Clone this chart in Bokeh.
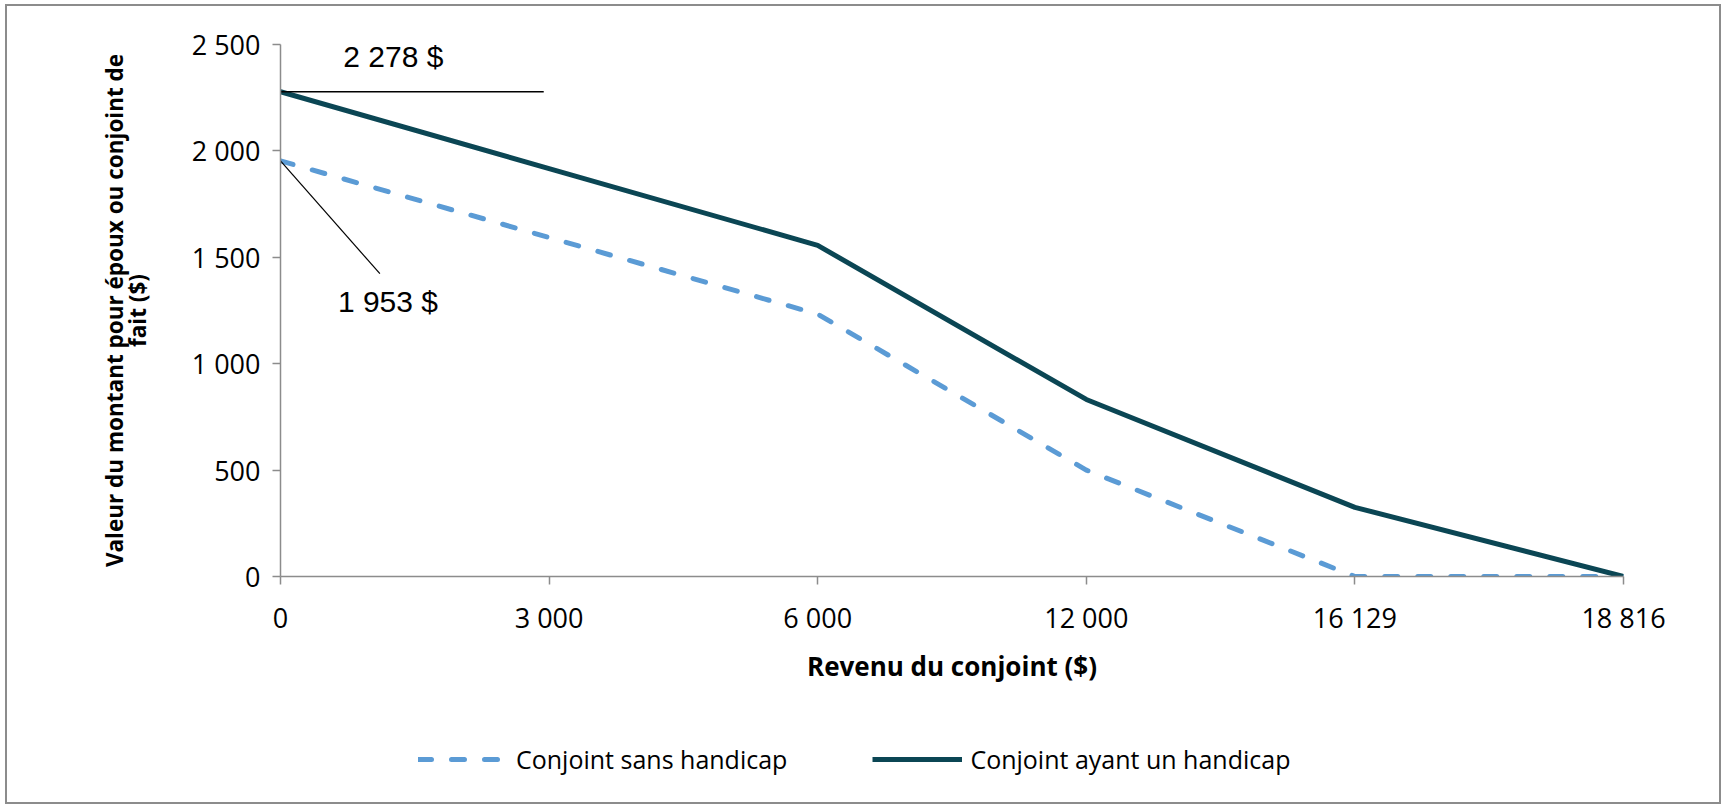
from bokeh.plotting import figure
from bokeh.layouts import column
from bokeh.models import Range1d, FixedTicker, Legend, LegendItem, LinearAxis
from bokeh.core.properties import value
from bokeh.embed import file_html
from bokeh.resources import INLINE

# ---- data ----
revenus = ["0", "3 000", "6 000", "12 000", "16 129", "18 816"]
sans_handicap = [1953, 1593, 1233, 500, 0, 0]
avec_handicap = [2278, 1917, 1556, 832, 325, 0]
y_ticks = [0, 500, 1000, 1500, 2000, 2500]
y_tick_labels = ["0", "500", "1 000", "1 500", "2 000", "2 500"]
series_names = ["Conjoint sans handicap", "Conjoint ayant un handicap"]
y_title_lines = ["Valeur du montant pour époux ou conjoint de", "fait ($)"]
x_title = "Revenu du conjoint ($)"

x = list(range(len(revenus)))

DASH_COL = "#5b9bd5"
SOLID_COL = "#0b4654"
DASH_STYLE = dict(line_color=DASH_COL, line_width=5, line_dash="13 20",
                  line_cap="round", line_join="round")
SOLID_STYLE = dict(line_color=SOLID_COL, line_width=5, line_join="round")

W = 1712
p = figure(width=W, height=700, output_backend="svg", toolbar_location=None,
           x_range=Range1d(x[0], x[-1]), y_range=Range1d(y_ticks[0], y_ticks[-1]),
           min_border_left=273, min_border_right=96, min_border_top=38,
           min_border_bottom=130)

p.grid.visible = False
p.outline_line_color = None
p.background_fill_color = "white"
p.border_fill_color = "white"

r1 = p.line(x, sans_handicap, **DASH_STYLE)
r2 = p.line(x, avec_handicap, **SOLID_STYLE)

# axes
ax_col = "#8c8c8c"
for ax in (p.xaxis[0], p.yaxis[0]):
    ax.axis_line_color = ax_col
    ax.axis_line_width = 1.5
    ax.major_tick_line_color = ax_col
    ax.major_tick_line_width = 1.5
    ax.major_tick_out = 8
    ax.major_tick_in = 0
    ax.minor_tick_line_color = None
    ax.major_label_text_font = "Open Sans"
    ax.major_label_text_font_size = "27px"
    ax.major_label_text_color = "black"
    ax.axis_label_text_font = "Open Sans"
    ax.axis_label_text_font_style = "bold"
    ax.axis_label_text_color = "black"

p.xaxis.ticker = FixedTicker(ticks=x)
p.xaxis.major_label_overrides = {i: lab for i, lab in zip(x, revenus)}
p.xaxis.major_label_standoff = 14
p.xaxis.axis_label = x_title
p.xaxis.axis_label_standoff = 9
p.xaxis.axis_label_text_font_size = "26px"

p.yaxis.ticker = FixedTicker(ticks=y_ticks)
p.yaxis.major_label_overrides = {t: lab for t, lab in zip(y_ticks, y_tick_labels)}
p.yaxis.major_label_standoff = 12
p.yaxis.axis_label = y_title_lines[1]
p.yaxis.axis_label_standoff = 36
p.yaxis.axis_label_text_font_size = "22.5px"

# outer line of the y-axis title, as a tick-less axis
y_title_axis = LinearAxis(ticker=FixedTicker(ticks=[]), axis_line_color=None,
                          major_tick_line_color=None, minor_tick_line_color=None,
                          major_tick_out=0, major_tick_in=0,
                          major_label_standoff=0,
                          axis_label=y_title_lines[0], axis_label_standoff=-11,
                          axis_label_text_font="Open Sans",
                          axis_label_text_font_style="bold",
                          axis_label_text_font_size="22.5px",
                          axis_label_text_color="black")
p.add_layout(y_title_axis, "left")

# annotations (leader lines + value labels)
lab_hi = f"{avec_handicap[0]:,}".replace(",", " ") + " $"
lab_lo = f"{sans_handicap[0]:,}".replace(",", " ") + " $"
p.segment(x0=[x[0]], y0=[avec_handicap[0]], x1=[x[1] - 0.02], y1=[avec_handicap[0]],
          line_color="black", line_width=1.5)
p.text(x=[0.42], y=[avec_handicap[0] + 165], text=[lab_hi],
       text_font=value("Liberation Sans"), text_font_size="30px",
       text_align="center", text_baseline="middle", text_color="black")
p.segment(x0=[x[0]], y0=[sans_handicap[0]], x1=[0.37], y1=[sans_handicap[0] - 530],
          line_color="black", line_width=1.2)
p.text(x=[0.40], y=[sans_handicap[0] - 660], text=[lab_lo],
       text_font=value("Liberation Sans"), text_font_size="30px",
       text_align="center", text_baseline="middle", text_color="black")

# ---- legend panel (below the chart) ----
leg = figure(width=W, height=96, output_backend="svg", toolbar_location=None,
             x_range=Range1d(100, 101), y_range=Range1d(100, 101),
             x_axis_location=None, y_axis_location=None, min_border=0)
leg.grid.visible = False
leg.outline_line_color = None
leg.border_fill_color = "white"
leg.background_fill_color = "white"
# same series, drawn outside the visible range: only their legend samples show
l1 = leg.line(x, sans_handicap, **DASH_STYLE)
l2 = leg.line(x, avec_handicap, **SOLID_STYLE)
legend = Legend(items=[LegendItem(label=series_names[0], renderers=[l1]),
                       LegendItem(label=series_names[1], renderers=[l2])],
                location=(138, 26), orientation="horizontal",
                glyph_width=90, glyph_height=20, label_standoff=8, spacing=85,
                padding=10, margin=0,
                border_line_color=None, background_fill_alpha=0,
                label_text_font="Open Sans", label_text_font_size="25px",
                label_text_color="black")
leg.add_layout(legend, "center")

layout = column(p, leg, spacing=0,
                styles={"border": "2px solid #8c8c8c", "margin-left": "5px",
                        "margin-top": "4px"})

open("out.html", "w").write(file_html(layout, INLINE))
